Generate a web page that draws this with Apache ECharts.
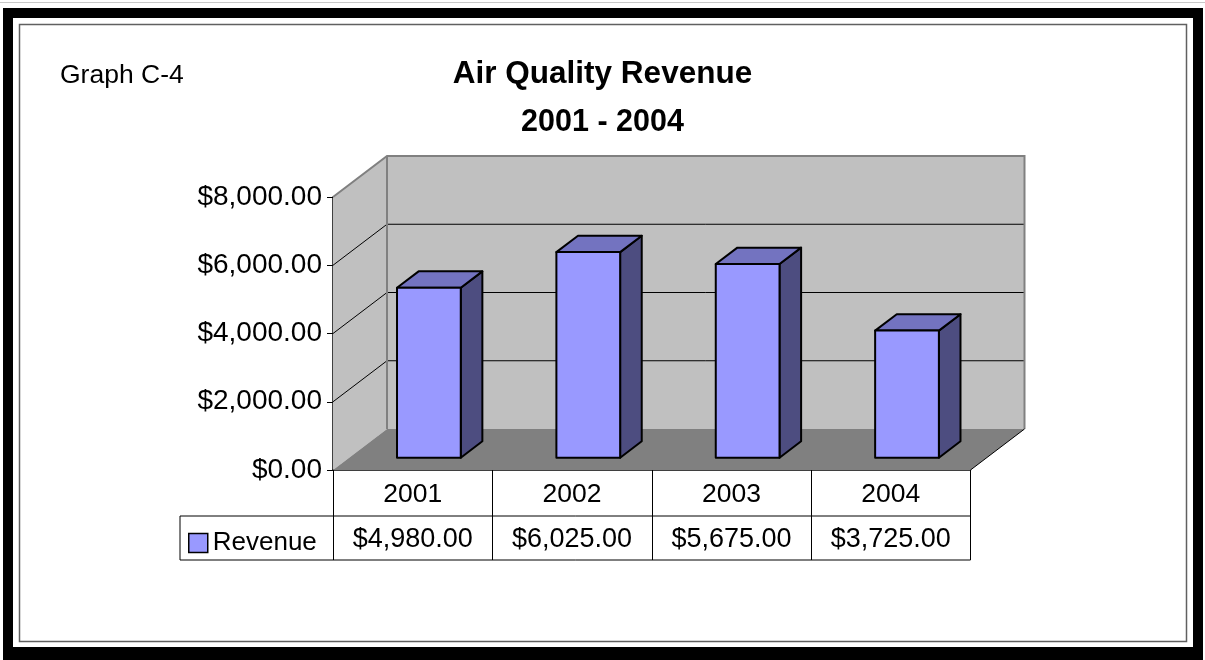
<!DOCTYPE html>
<html>
<head>
<meta charset="utf-8">
<script src="https://cdn.jsdelivr.net/npm/echarts@6/dist/echarts.min.js"></script>
<style>
  html, body { margin: 0; padding: 0; background: #ffffff; }
  #chart { width: 1205px; height: 660px; }
</style>
</head>
<body>
<div id="chart"></div>
<script>
// ---- data ----
const categories = ['2001', '2002', '2003', '2004'];
const revenue = [4980, 6025, 5675, 3725];
const yTicks = [0, 2000, 4000, 6000, 8000];
const seriesName = 'Revenue';
const mainTitle = 'Air Quality Revenue';
const subTitle = '2001 - 2004';
const graphLabel = 'Graph C-4';

// ---- style constants ----
const FONT = '"Liberation Sans", Arial, sans-serif';
const DX = 54, DY = -41;           // 3D depth offset (px)
const BAR_FRONT = 0.3, BAR_BACK = 0.7, BAR_W = 0.4;
const ROW1 = 46, ROW2 = 90, LEFT_CELL = 153;

function money(v) {
  return '$' + Number(v).toLocaleString('en-US', { minimumFractionDigits: 2, maximumFractionDigits: 2 });
}

const yMax = yTicks[yTicks.length - 1];

const chart = echarts.init(document.getElementById('chart'), null, { renderer: 'canvas' });

const option = {
  backgroundColor: '#ffffff',
  animation: false,
  textStyle: { fontFamily: FONT },
  title: [
    { text: graphLabel, left: 60, top: 62, padding: 0,
      textStyle: { fontFamily: FONT, fontSize: 26.5, fontWeight: 'normal', color: '#000' } },
    { text: mainTitle, left: 'center', top: 58, padding: 0,
      textStyle: { fontFamily: FONT, fontSize: 31.5, fontWeight: 'bold', color: '#000' } },
    { text: subTitle, left: 'center', top: 107, padding: 0,
      textStyle: { fontFamily: FONT, fontSize: 30.5, fontWeight: 'bold', color: '#000' } }
  ],
  legend: {
    data: [seriesName],
    left: 188, top: 530, padding: 0,
    icon: 'rect', itemWidth: 19, itemHeight: 19, itemGap: 8,
    itemStyle: { color: '#9999ff', borderColor: '#000', borderWidth: 1.5 },
    textStyle: { fontFamily: FONT, fontSize: 26, color: '#000' },
    selectedMode: false
  },
  grid: { left: 333, right: 234.5, top: 197, bottom: 190, containLabel: false },
  xAxis: {
    type: 'category',
    data: categories,
    boundaryGap: true,
    axisLine: { show: true, lineStyle: { color: '#000', width: 1.5 } },
    axisTick: { show: true, alignWithLabel: false, length: ROW2, lineStyle: { color: '#000', width: 1 } },
    axisLabel: { fontFamily: FONT, fontSize: 26.5, color: '#000', margin: 11.5 },
    splitLine: { show: false }
  },
  yAxis: {
    type: 'value',
    min: yTicks[0], max: yMax, interval: yTicks[1] - yTicks[0],
    axisLine: { show: true, lineStyle: { color: '#000', width: 1.5 } },
    axisTick: { show: true, length: 6, inside: false, lineStyle: { color: '#000', width: 1 } },
    axisLabel: { fontFamily: FONT, fontSize: 28, color: '#000', margin: 11, formatter: money },
    splitLine: { show: false }
  },
  graphic: [
    // spreadsheet hairline at top
    { type: 'rect', shape: { x: 0, y: 2, width: 1205, height: 1 }, style: { fill: '#c8c8c8' }, silent: true },
    // thick black frame
    { type: 'rect', shape: { x: 3, y: 8, width: 1200, height: 10 }, style: { fill: '#000' }, silent: true },
    { type: 'rect', shape: { x: 3, y: 8, width: 10, height: 652 }, style: { fill: '#000' }, silent: true },
    { type: 'rect', shape: { x: 1193, y: 8, width: 10, height: 652 }, style: { fill: '#000' }, silent: true },
    { type: 'rect', shape: { x: 3, y: 647, width: 1200, height: 13 }, style: { fill: '#000' }, silent: true },
    // inner thin border
    { type: 'rect', shape: { x: 19.5, y: 24.5, width: 1167, height: 617 },
      style: { fill: 'none', stroke: '#606060', lineWidth: 1.5 }, silent: true }
  ],
  series: [
    {
      name: 'walls',
      type: 'custom',
      z: 1,
      silent: true,
      data: [[0]],
      renderItem: function (params, api) {
        const band = api.size([1, 0])[0];
        const p0 = api.coord([0, 0]);
        const pN = api.coord([categories.length - 1, 0]);
        const L = p0[0] - band / 2, R = pN[0] + band / 2;
        const B = p0[1];
        const T = api.coord([0, yMax])[1];
        const ch = [];
        // back wall
        ch.push({ type: 'polygon', shape: { points: [[L + DX, T + DY], [R + DX, T + DY], [R + DX, B + DY], [L + DX, B + DY]] },
          style: { fill: '#c0c0c0', stroke: null } });
        // side wall
        ch.push({ type: 'polygon', shape: { points: [[L, T], [L + DX, T + DY], [L + DX, B + DY], [L, B]] },
          style: { fill: '#c0c0c0', stroke: null } });
        // floor
        ch.push({ type: 'polygon', shape: { points: [[L, B], [R, B], [R + DX, B + DY], [L + DX, B + DY]] },
          style: { fill: '#808080', stroke: null } });
        // gridlines
        for (let k = 1; k < yTicks.length - 1; k++) {
          const y = api.coord([0, yTicks[k]])[1];
          ch.push({ type: 'line', shape: { x1: L + DX, y1: y + DY, x2: R + DX, y2: y + DY },
            style: { stroke: '#000', lineWidth: 1 } });
          ch.push({ type: 'line', shape: { x1: L, y1: y, x2: L + DX, y2: y + DY },
            style: { stroke: '#000', lineWidth: 1 } });
        }
        // wall borders (grey)
        ch.push({ type: 'polyline', shape: { points: [[L, T], [L + DX, T + DY], [R + DX, T + DY], [R + DX, B + DY]] },
          style: { stroke: '#808080', lineWidth: 2, fill: null } });
        ch.push({ type: 'line', shape: { x1: L + DX, y1: T + DY, x2: L + DX, y2: B + DY },
          style: { stroke: '#808080', lineWidth: 2 } });
        // floor right edge
        ch.push({ type: 'line', shape: { x1: R, y1: B, x2: R + DX, y2: B + DY },
          style: { stroke: '#000', lineWidth: 1 } });
        return { type: 'group', children: ch };
      }
    },
    {
      name: seriesName,
      type: 'custom',
      z: 3,
      itemStyle: { color: '#9999ff', borderColor: '#000', borderWidth: 1.5 },
      data: revenue.map((v, i) => [i, v]),
      encode: { x: 0, y: 1 },
      renderItem: function (params, api) {
        const i = api.value(0), v = api.value(1);
        const base = api.coord([i, 0]);
        const top = api.coord([i, v]);
        const band = api.size([1, 0])[0];
        const w = band * BAR_W;
        const fx = BAR_FRONT * DX, fy = BAR_FRONT * DY;
        const bx = BAR_BACK * DX, by = BAR_BACK * DY;
        const xl = base[0] - w / 2, xr = base[0] + w / 2;
        const yt = top[1], yb = base[1];
        const sty = { stroke: '#000', lineWidth: 2, lineJoin: 'round' };
        return {
          type: 'group',
          children: [
            { type: 'polygon', shape: { points: [[xr + fx, yt + fy], [xr + bx, yt + by], [xr + bx, yb + by], [xr + fx, yb + fy]] },
              style: Object.assign({ fill: '#4d4d80' }, sty) },
            { type: 'polygon', shape: { points: [[xl + fx, yt + fy], [xr + fx, yt + fy], [xr + bx, yt + by], [xl + bx, yt + by]] },
              style: Object.assign({ fill: '#7373c0' }, sty) },
            { type: 'rect', shape: { x: xl + fx, y: yt + fy, width: w, height: yb - yt },
              style: Object.assign({ fill: '#9999ff' }, sty) }
          ]
        };
      }
    },
    {
      name: 'table',
      type: 'custom',
      z: 4,
      silent: true,
      data: revenue.map((v, i) => [i, v]),
      encode: { x: 0, y: 1 },
      renderItem: function (params, api) {
        const i = api.value(0), v = api.value(1);
        const c = api.coord([i, 0]);
        const band = api.size([1, 0])[0];
        const ch = [
          { type: 'text', x: c[0], y: c[1] + (ROW1 + ROW2) / 2 + 1.5,
            style: { text: money(v), fill: '#000', font: '27px ' + FONT, align: 'center', verticalAlign: 'middle' } }
        ];
        if (params.dataIndex === 0) {
          const L = c[0] - band / 2 - LEFT_CELL;
          const R = c[0] + band * (categories.length - 0.5);
          ch.push({ type: 'line', shape: { x1: L, y1: c[1] + ROW1, x2: R, y2: c[1] + ROW1 }, style: { stroke: '#000', lineWidth: 1 } });
          ch.push({ type: 'line', shape: { x1: L, y1: c[1] + ROW2, x2: R, y2: c[1] + ROW2 }, style: { stroke: '#000', lineWidth: 1 } });
          ch.push({ type: 'line', shape: { x1: L, y1: c[1] + ROW1, x2: L, y2: c[1] + ROW2 }, style: { stroke: '#000', lineWidth: 1 } });
        }
        return { type: 'group', children: ch };
      }
    }
  ]
};

chart.setOption(option);
</script>
</body>
</html>
